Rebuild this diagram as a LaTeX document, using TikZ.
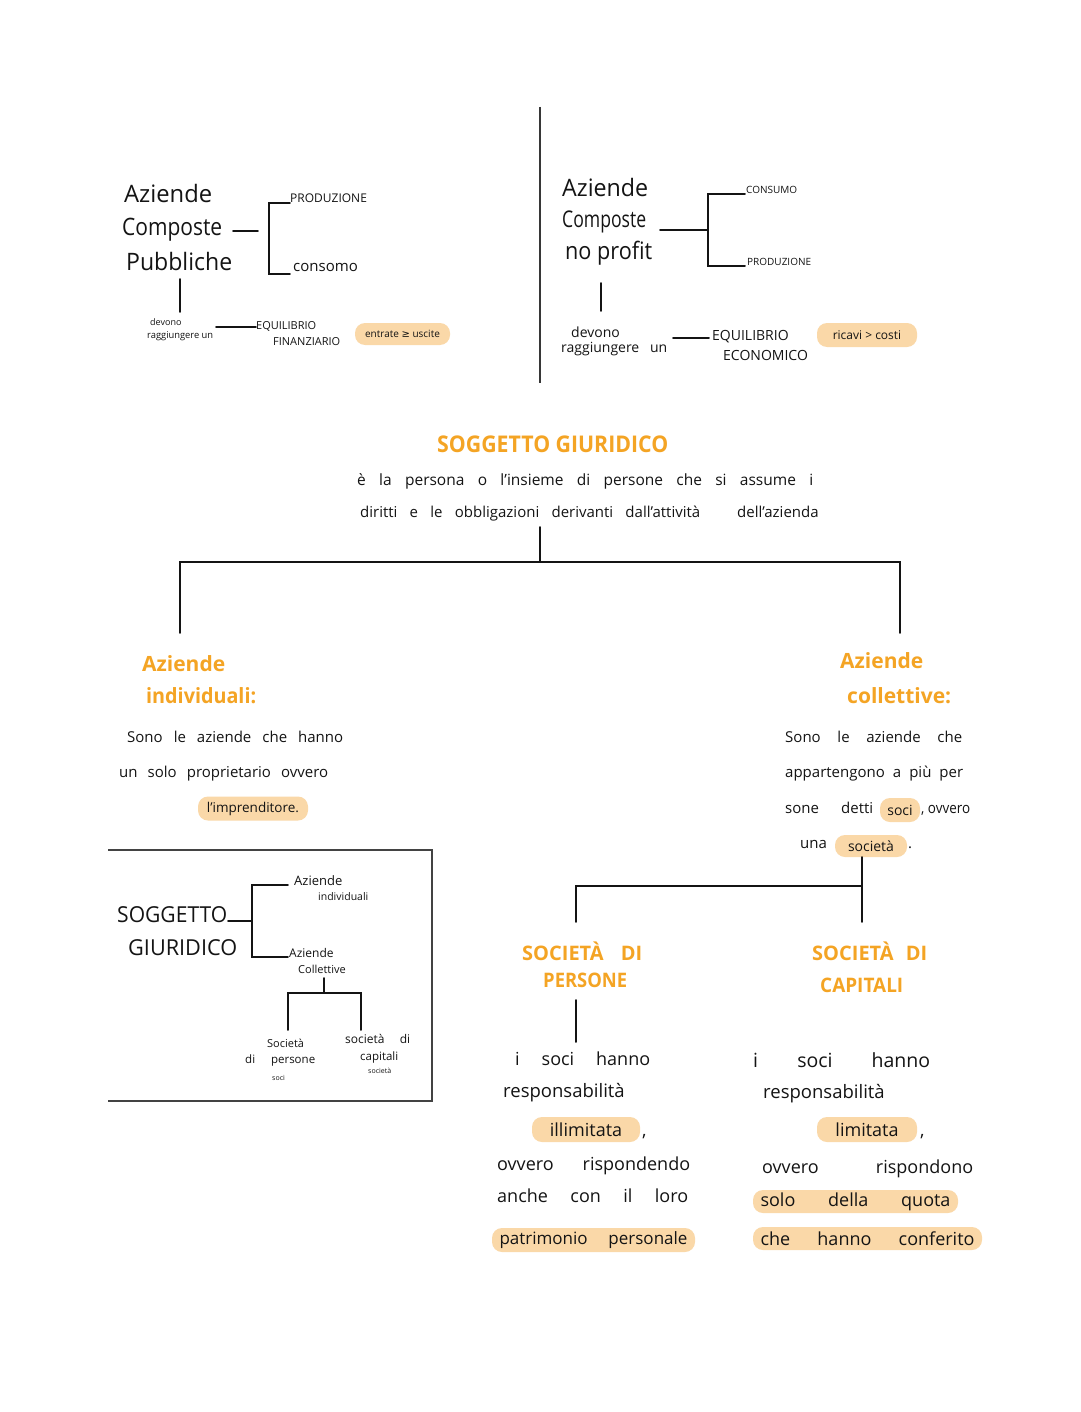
\documentclass[tikz,border=0pt]{standalone}
\usepackage{fontspec}
\setmainfont{Open Sans}
\newfontfamily\symf{DejaVu Sans}
\usepackage{graphicx}
\definecolor{hdor}{RGB}{244,164,36}
\definecolor{peach}{RGB}{250,216,168}
\definecolor{ink}{RGB}{20,20,20}
\newsavebox\fwbox
\newcommand\fw[2]{\sbox\fwbox{#2}\ifdim\wd\fwbox>#1\relax\resizebox{#1}{\height}{\usebox\fwbox}\else\makebox[#1][s]{#2}\fi}
\newcommand\fsz[1]{\fontsize{#1}{#1}\selectfont}
\tikzset{
  txt/.style={anchor=base west, inner sep=0pt, text=ink},
  hd/.style={anchor=base west, inner sep=0pt, text=hdor},
  pill/.style={fill=peach, rounded corners=10pt, inner sep=0pt, text=ink, anchor=center},
  ln/.style={line width=1.9pt, draw=ink, line cap=round},
  divln/.style={line width=1.4pt, draw=ink!85},
  boxln/.style={line width=1.3pt, draw=ink!80},
}
\begin{document}
\begin{tikzpicture}[x=1pt,y=-1pt]
\useasboundingbox[fill=white] (0,0) rectangle (1080,1412);

% ---------------- top left ----------------
\node[txt,font=\fsz{24}] (tl1) at (124,203) {\fw{88pt}{Aziende}};
\node[txt,font=\fsz{24}] (tl2) at (122,236) {\fw{100pt}{Composte}};
\node[txt,font=\fsz{24}] (tl3) at (126,271) {\fw{106pt}{Pubbliche}};
\coordinate (tlh1) at (233,231); \coordinate (tlh2) at (258,231);
\draw[ln] (tlh1) -- (tlh2);
\coordinate (tlb1) at (290,203); \coordinate (tlb2) at (269,203);
\coordinate (tlb3) at (269,274); \coordinate (tlb4) at (290,274);
\draw[ln] (tlb1) -- (tlb2) -- (tlb3) -- (tlb4);
\node[txt,font=\fsz{12}] (tlp) at (290,203) {\fw{86pt}{PRODUZIONE}};
\node[txt,font=\fsz{15}] (tlc) at (293,272) {\fw{66pt}{consomo}};
\coordinate (tlv1) at (180,279); \coordinate (tlv2) at (180,312);
\draw[ln] (tlv1) -- (tlv2);
\node[txt,font=\fsz{9}] (tld1) at (150,325) {devono};
\node[txt,font=\fsz{9.5}] (tld2) at (147,338) {\fw{66pt}{raggiungere un}};
\coordinate (tlq1) at (216,327); \coordinate (tlq2) at (256,327);
\draw[ln] (tlq1) -- (tlq2);
\node[txt,font=\fsz{11}] (tle1) at (256,330) {\fw{70pt}{EQUILIBRIO}};
\node[txt,font=\fsz{11}] (tle2) at (273,345) {\fw{80pt}{FINANZIARIO}};
\node[pill,minimum width=95pt,minimum height=22pt,font=\fsz{10}] (tlpill) at (402.5,334) {entrate {\symf ≥} uscite};

% divider
\coordinate (dv1) at (540,107); \coordinate (dv2) at (540,383);
\draw[divln] (dv1) -- (dv2);

% ---------------- top right ----------------
\node[txt,font=\fsz{24}] (tr1) at (562,197) {\fw{86pt}{Aziende}};
\node[txt,font=\fsz{23}] (tr2) at (562,228) {\fw{84pt}{Composte}};
\node[txt,font=\fsz{24}] (tr3) at (565,260) {\fw{87pt}{no profit}};
\coordinate (trh1) at (660,230); \coordinate (trh2) at (708,230);
\draw[ln] (trh1) -- (trh2);
\coordinate (trb1) at (745,194); \coordinate (trb2) at (708,194);
\coordinate (trb3) at (708,266); \coordinate (trb4) at (745,266);
\draw[ln] (trb1) -- (trb2) -- (trb3) -- (trb4);
\node[txt,font=\fsz{10}] (trc) at (746,194) {\fw{64pt}{CONSUMO}};
\node[txt,font=\fsz{10}] (trp) at (747,266) {\fw{76pt}{PRODUZIONE}};
\coordinate (trv1) at (601,283); \coordinate (trv2) at (601,311);
\draw[ln] (trv1) -- (trv2);
\node[txt,font=\fsz{14}] (trd1) at (571,337) {devono};
\node[txt,font=\fsz{14}] (trd2) at (561,352) {\fw{106pt}{raggiungere un}};
\coordinate (trq1) at (673,338); \coordinate (trq2) at (709,338);
\draw[ln] (trq1) -- (trq2);
\node[txt,font=\fsz{14}] (tre1) at (712,340) {\fw{92pt}{EQUILIBRIO}};
\node[txt,font=\fsz{14}] (tre2) at (723,360) {\fw{90pt}{ECONOMICO}};
\node[pill,minimum width=100pt,minimum height=24pt,font=\fsz{12}] (trpill) at (867,335) {ricavi > costi};

% ---------------- centre ----------------
\node[hd,font=\bfseries\fsz{23}] (title) at (437,452) {\fw{231pt}{SOGGETTO GIURIDICO}};
\node[txt,font=\fsz{15.5}] (def1) at (357,485) {\fw{456pt}{è la persona o l'insieme di persone che si assume i}};
\node[txt,font=\fsz{15}] (def2) at (360,517) {\fw{340pt}{diritti e le obbligazioni derivanti dall'attività}};
\node[txt,font=\fsz{15}] (def3) at (737,517) {\fw{100pt}{dell'azienda}};
\coordinate (cv1) at (540,527); \coordinate (cv2) at (540,562);
\coordinate (cl) at (180,562); \coordinate (cr) at (900,562);
\coordinate (cl2) at (180,633); \coordinate (cr2) at (900,633);
\draw[ln] (cv1) -- (cv2);
\draw[ln] (cl2) -- (cl) -- (cr) -- (cr2);

% ---------------- left: aziende individuali ----------------
\node[hd,font=\bfseries\fsz{21}] (ai1) at (142,671) {\fw{83pt}{Aziende}};
\node[hd,font=\bfseries\fsz{21}] (ai2) at (146,703) {\fw{110pt}{individuali:}};
\node[txt,font=\fsz{15}] (ai3) at (127,742) {\fw{216pt}{Sono le aziende che hanno}};
\node[txt,font=\fsz{15}] (ai4) at (119,777) {\fw{209pt}{un solo proprietario ovvero}};
\node[pill,minimum width=110pt,minimum height=24pt,font=\fsz{13.5}] (ai5) at (253,808.5) {l'imprenditore.};

% ---------------- right: aziende collettive ----------------
\node[hd,font=\bfseries\fsz{21}] (ac1) at (840,668) {\fw{87pt}{Aziende}};
\node[hd,font=\bfseries\fsz{21}] (ac2) at (847,703) {\fw{106pt}{collettive:}};
\node[txt,font=\fsz{15}] (ac3) at (785,742) {\fw{177pt}{Sono le aziende che}};
\node[txt,font=\fsz{15}] (ac4) at (785,777) {\fw{178pt}{appartengono a più per}};
\node[txt,font=\fsz{15}] (ac5) at (785,813) {\fw{88pt}{sone detti}};
\node[pill,minimum width=40pt,minimum height=24pt,font=\fsz{14}] (acsoci) at (900,810) {soci};
\node[txt,font=\fsz{15}] (ac6) at (921,813) {\fw{49pt}{, ovvero}};
\node[txt,font=\fsz{15}] (ac7) at (800,848) {una};
\node[pill,minimum width=72pt,minimum height=22pt,font=\fsz{14}] (acsoc) at (871,846) {società};
\node[txt,font=\fsz{15}] (ac8) at (908,848) {.};
\coordinate (rv1) at (862,857); \coordinate (rv2) at (862,886);
\coordinate (rl) at (576,886); \coordinate (rl2) at (576,922);
\coordinate (rr2) at (862,922);
\draw[ln] (rv1) -- (rv2);
\draw[ln] (rl2) -- (rl) -- (rv2) -- (rr2);

% ---------------- small box ----------------
\coordinate (bx1) at (108,850); \coordinate (bx2) at (432,850);
\coordinate (bx3) at (432,1101); \coordinate (bx4) at (108,1101);
\draw[boxln] (bx1) -- (bx2) -- (bx3) -- (bx4);
\node[txt,font=\fsz{22}] (bs1) at (117,922) {\fw{110pt}{SOGGETTO}};
\node[txt,font=\fsz{22}] (bs2) at (128,955) {\fw{109pt}{GIURIDICO}};
\coordinate (bh1) at (228,921); \coordinate (bh2) at (252,921);
\draw[ln] (bh1) -- (bh2);
\coordinate (bb1) at (288,885); \coordinate (bb2) at (252,885);
\coordinate (bb3) at (252,957); \coordinate (bb4) at (288,957);
\draw[ln] (bb1) -- (bb2) -- (bb3) -- (bb4);
\node[txt,font=\fsz{13}] (bai1) at (294,885) {\fw{57pt}{Aziende}};
\node[txt,font=\fsz{10.5}] (bai2) at (318,900) {\fw{70pt}{individuali}};
\node[txt,font=\fsz{12}] (bac1) at (289,957) {\fw{59pt}{Aziende}};
\node[txt,font=\fsz{11}] (bac2) at (298,973) {\fw{59pt}{Collettive}};
\coordinate (bv1) at (324,978); \coordinate (bv2) at (324,993);
\coordinate (bl) at (288,993); \coordinate (br) at (361,993);
\coordinate (bl2) at (288,1030); \coordinate (br2) at (361,1030);
\draw[ln] (bv1) -- (bv2);
\draw[ln] (bl2) -- (bl) -- (br) -- (br2);
\node[txt,font=\fsz{11}] (bsp1) at (267,1047) {\fw{43pt}{Società}};
\node[txt,font=\fsz{11.5}] (bsp2) at (245,1063) {\fw{70pt}{di persone}};
\node[txt,font=\fsz{7}] (bsp3) at (272,1080) {soci};
\node[txt,font=\fsz{12}] (bsc1) at (345,1043) {\fw{65pt}{società di}};
\node[txt,font=\fsz{11.5}] (bsc2) at (360,1060) {\fw{47pt}{capitali}};
\node[txt,font=\fsz{7}] (bsc3) at (368,1073) {società};

% ---------------- società di persone ----------------
\node[hd,font=\bfseries\fsz{20}] (sp1) at (522,960) {\fw{120pt}{SOCIETÀ DI}};
\node[hd,font=\bfseries\fsz{20}] (sp2) at (543,987) {\fw{84pt}{PERSONE}};
\coordinate (spv1) at (576,1000); \coordinate (spv2) at (576,1042);
\draw[ln] (spv1) -- (spv2);
\node[txt,font=\fsz{18}] (sp3) at (515,1065) {\fw{135pt}{i soci hanno}};
\node[txt,font=\fsz{18.5}] (sp4) at (503,1097) {\fw{144pt}{responsabilità}};
\node[pill,minimum width=108pt,minimum height=25pt,font=\fsz{18}] (sp5) at (586,1129.5) {illimitata};
\node[txt,font=\fsz{18}] (sp5c) at (642,1136) {,};
\node[txt,font=\fsz{18}] (sp6) at (497,1170) {\fw{193pt}{ovvero rispondendo}};
\node[txt,font=\fsz{18}] (sp7) at (497,1202) {\fw{191pt}{anche con il loro}};
\node[pill,minimum width=203pt,minimum height=24pt,font=\fsz{17}] (sp8) at (593.5,1240) {\fw{188pt}{patrimonio personale}};

% ---------------- società di capitali ----------------
\node[hd,font=\bfseries\fsz{20}] (sc1) at (812,960) {\fw{115pt}{SOCIETÀ DI}};
\node[hd,font=\bfseries\fsz{20}] (sc2) at (820,992) {\fw{83pt}{CAPITALI}};
\node[txt,font=\fsz{19.5}] (sc3) at (753,1067) {\fw{177pt}{i soci hanno}};
\node[txt,font=\fsz{18.5}] (sc4) at (763,1098) {\fw{142pt}{responsabilità}};
\node[pill,minimum width=100pt,minimum height=25pt,font=\fsz{18}] (sc5) at (867,1129.5) {limitata};
\node[txt,font=\fsz{18}] (sc5c) at (920,1136) {,};
\node[txt,font=\fsz{18}] (sc6) at (762,1173) {\fw{211pt}{ovvero rispondono}};
\node[pill,minimum width=205pt,minimum height=23pt,font=\fsz{18}] (sc7) at (855.5,1201.5) {\fw{190pt}{solo della quota}};
\node[pill,minimum width=229pt,minimum height=23pt,font=\fsz{18}] (sc8) at (867.5,1238.5) {\fw{214pt}{che hanno conferito}};
\end{tikzpicture}
\end{document}
